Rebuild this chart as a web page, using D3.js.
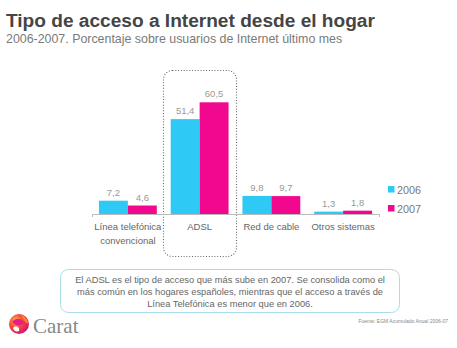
<!DOCTYPE html>
<html>
<head>
<meta charset="utf-8">
<script src="https://cdn.jsdelivr.net/npm/d3@7"></script>
<style>
  body { margin: 0; background: #fff; }
  svg { font-family: "Liberation Sans", Arial, sans-serif; display: block; }
</style>
</head>
<body>
<script>
// values
const categories = ['Línea telefónica\nconvencional', 'ADSL', 'Red de cable', 'Otros sistemas'];
const seriesNames = ['2006', '2007'];
const values2006 = [7.2, 51.4, 9.8, 1.3];
const values2007 = [4.6, 60.5, 9.7, 1.8];
const seriesColors = ['#2fc9f6', '#f2078f'];
const noteLines = [
    'El ADSL es el tipo de acceso que más sube en 2007. Se consolida como el',
    'más común en los hogares españoles, mientras que el acceso a través de',
    'Línea Telefónica es menor que en 2006.'
];

const W = 457, H = 348;
const fmt = v => String(v).replace('.', ',');

const svg = d3.select('body').append('svg')
    .attr('width', W)
    .attr('height', H);

// title block
svg.append('text')
    .attr('x', 6).attr('y', 27)
    .attr('font-size', 19.1).attr('font-weight', 'bold')
    .attr('fill', '#454545')
    .text('Tipo de acceso a Internet desde el hogar');

svg.append('text')
    .attr('x', 6).attr('y', 43)
    .attr('font-size', 12.4)
    .attr('fill', '#7a7a7a')
    .text('2006-2007. Porcentaje sobre usuarios de Internet último mes');

// scales
const x0 = d3.scaleBand()
    .domain(categories)
    .range([92, 379]);

const x1 = d3.scaleBand()
    .domain(seriesNames)
    .range([0, x0.bandwidth()])
    .paddingOuter(0.24);

const y = d3.scaleLinear()
    .domain([0, 65])
    .range([214, 94]);

const color = d3.scaleOrdinal().domain(seriesNames).range(seriesColors);

const rows = categories.map((c, i) => ({
    cat: c,
    vals: [
        { s: '2006', v: values2006[i] },
        { s: '2007', v: values2007[i] }
    ]
}));

// dotted highlight around ADSL
svg.append('rect')
    .attr('x', 163.5).attr('y', 70.5)
    .attr('width', 73).attr('height', 186)
    .attr('rx', 9)
    .attr('fill', 'none')
    .attr('stroke', '#666')
    .attr('stroke-width', 1.1)
    .attr('stroke-dasharray', '1,1.8');

// bars
const groups = svg.selectAll('g.cat')
    .data(rows)
    .enter().append('g')
    .attr('class', 'cat')
    .attr('transform', d => `translate(${x0(d.cat)},0)`);

groups.selectAll('rect')
    .data(d => d.vals)
    .enter().append('rect')
    .attr('x', d => x1(d.s))
    .attr('y', d => y(d.v))
    .attr('width', x1.bandwidth())
    .attr('height', d => y(0) - y(d.v))
    .attr('fill', d => color(d.s));

groups.selectAll('text.val')
    .data(d => d.vals)
    .enter().append('text')
    .attr('class', 'val')
    .attr('x', d => x1(d.s) + x1.bandwidth() / 2)
    .attr('y', d => y(d.v) - 5)
    .attr('text-anchor', 'middle')
    .attr('font-size', 9.5)
    .attr('fill', '#999')
    .text(d => fmt(d.v));

// category axis
const xAxis = d3.axisBottom(x0)
    .tickSize(0)
    .tickSizeOuter(3)
    .tickPadding(9);

const axisG = svg.append('g')
    .attr('transform', `translate(0,${y(0)})`)
    .call(xAxis);

axisG.select('.domain').attr('stroke', '#bbb');
axisG.selectAll('.tick text')
    .attr('font-size', 9.5)
    .attr('fill', '#666')
    .attr('font-family', '"Liberation Sans", Arial, sans-serif')
    .each(function(d) {
        const t = d3.select(this);
        const parts = d.split('\n');
        t.text(null);
        parts.forEach((p, i) => {
            t.append('tspan')
                .attr('x', 0)
                .attr('dy', i === 0 ? '0.71em' : '1.45em')
                .text(p);
        });
    })
    .attr('dy', null);

// legend
const legend = svg.append('g')
    .attr('transform', 'translate(388,186)');

legend.selectAll('rect')
    .data(seriesNames)
    .enter().append('rect')
    .attr('x', 0)
    .attr('y', (d, i) => i * 19)
    .attr('width', 6.5).attr('height', 6.5)
    .attr('fill', d => color(d));

legend.selectAll('text')
    .data(seriesNames)
    .enter().append('text')
    .attr('x', 9)
    .attr('y', (d, i) => i * 19 + 7.5)
    .attr('font-size', 10.8)
    .attr('fill', '#777')
    .text(d => d);

// note box
svg.append('rect')
    .attr('x', 60.5).attr('y', 269.5)
    .attr('width', 339).attr('height', 43)
    .attr('rx', 8)
    .attr('fill', '#fff')
    .attr('stroke', '#a9dcec')
    .attr('stroke-width', 1);

svg.append('g').selectAll('text')
    .data(noteLines)
    .enter().append('text')
    .attr('x', 230)
    .attr('y', (d, i) => 283 + i * 12)
    .attr('text-anchor', 'middle')
    .attr('font-size', 9.3)
    .attr('fill', '#666')
    .text(d => d);

// source
svg.append('text')
    .attr('x', 448).attr('y', 323)
    .attr('text-anchor', 'end')
    .attr('font-size', 5)
    .attr('fill', '#888')
    .text('Fuente: EGM Acumulado Anual 2006-07');

// Carat logo
const defs = svg.append('defs');
const grad = defs.append('radialGradient')
    .attr('id', 'logoGrad')
    .attr('cx', '35%').attr('cy', '35%').attr('r', '70%');
grad.append('stop').attr('offset', '0%').attr('stop-color', '#ffd040');
grad.append('stop').attr('offset', '45%').attr('stop-color', '#f5503c');
grad.append('stop').attr('offset', '100%').attr('stop-color', '#d8106e');

const logo = svg.append('g').attr('transform', 'translate(19,324)');
logo.append('circle').attr('r', 10).attr('fill', 'url(#logoGrad)');
logo.append('path')
    .attr('d', 'M-7,-2 C-3,-7 3,-6 5,-1 C3,2 -3,3 -7,-2 Z')
    .attr('fill', '#e81d8c');
logo.append('path')
    .attr('d', 'M-6,4 C-3,1 1,3 0,7 C-3,8 -5,7 -6,4 Z')
    .attr('fill', '#fff');
logo.append('path')
    .attr('d', 'M2,-9 C6,-8 9,-4 9,0 C6,-2 4,-5 2,-9 Z')
    .attr('fill', '#ff8a1e');

svg.append('text')
    .attr('x', 33).attr('y', 333)
    .attr('font-family', '"Liberation Serif", "DejaVu Serif", serif')
    .attr('font-size', 21)
    .attr('fill', '#888')
    .text('Carat');
</script>
</body>
</html>
